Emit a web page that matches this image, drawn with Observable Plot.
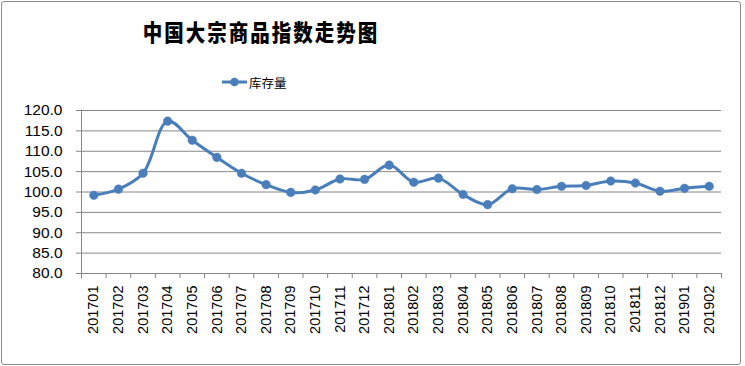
<!DOCTYPE html>
<html>
<head>
<meta charset="utf-8">
<script src="https://cdn.jsdelivr.net/npm/d3@7"></script>
<script src="https://cdn.jsdelivr.net/npm/@observablehq/plot@0.6"></script>
<style>
  html, body { margin: 0; padding: 0; background: #fff; }
  #wrap { position: relative; width: 745px; height: 366px; overflow: hidden; }
  #border { position: absolute; left: 1px; top: 1px; width: 738px; height: 362px; border: 1px solid #8c8c8c; border-radius: 3px; box-sizing: content-box; pointer-events: none; }
  #title { position: absolute; left: 111px; top: 16px; width: 300px; text-align: center; font-family: "Noto Sans CJK SC", sans-serif; font-weight: 900; font-size: 19.5px; letter-spacing: 2px; color: #000; line-height: 32px; white-space: nowrap; transform: scaleY(1.15); transform-origin: center; }
  #legend { position: absolute; left: 221px; top: 72px; height: 20px; display: flex; align-items: center; font-family: "Noto Sans CJK SC", sans-serif; font-size: 12.5px; color: #000; }
  #legend svg { margin-right: 1px; }
  #chart { position: absolute; left: 0; top: 0; }
</style>
</head>
<body>
<div id="wrap">
  <div id="chart"></div>
  <div id="title">中国大宗商品指数走势图</div>
  <div id="legend"></div>
  <div id="border"></div>
</div>
<script>
const months = ["201701","201702","201703","201704","201705","201706","201707","201708","201709","201710","201711","201712",
  "201801","201802","201803","201804","201805","201806","201807","201808","201809","201810","201811","201812","201901","201902"];
const inventory = [99.2,100.7,104.6,117.4,112.7,108.5,104.6,101.8,99.9,100.5,103.2,103.1,
  106.6,102.4,103.4,99.4,96.9,100.8,100.6,101.4,101.6,102.7,102.2,100.2,100.9,101.4];
const yTicks = [80,85,90,95,100,105,110,115,120];
const seriesName = "库存量";

const color = "#4a7ebb";
const data = months.map((m, i) => ({month: m, value: inventory[i]}));

const W = 745, H = 366, mL = 81, mR = 24;
const bw = (W - mL - mR) / months.length;

const chart = Plot.plot({
  width: W,
  height: H,
  marginTop: 110,
  marginBottom: 93,
  marginLeft: mL,
  marginRight: mR,
  style: {fontFamily: "'Liberation Sans', Arial, sans-serif", background: "transparent"},
  x: {type: "band", domain: months, padding: 0, round: false},
  y: {domain: [80, 120]},
  marks: [
    Plot.gridY(yTicks, {stroke: "#868686", strokeOpacity: 1, strokeWidth: 1}),
    Plot.ruleX([months[0]], {y1: 80, y2: 120, dx: -bw / 2, stroke: "#868686"}),
    Plot.ruleY([80], {stroke: "#868686"}),
    Plot.axisY(yTicks, {tickSize: 5, tickPadding: 14, stroke: "#868686", tickFormat: d => d.toFixed(1), fontSize: 15.5, fill: "#000", label: null}),
    Plot.axisX({tickSize: 5, stroke: "#868686", dx: -bw / 2, tickFormat: () => "", label: null}),
    Plot.axisX([months[months.length - 1]], {tickSize: 5, stroke: "#868686", dx: bw / 2, tickFormat: () => "", label: null}),
    Plot.axisX({tickSize: 0, tickPadding: 12, tickRotate: -90, fontSize: 14.5, fill: "#000", label: null}),
    Plot.line(data, {x: "month", y: "value", stroke: color, strokeWidth: 3, curve: "catmull-rom"}),
    Plot.dot(data, {x: "month", y: "value", r: 4.3, fill: color, stroke: color, strokeWidth: 0.5})
  ]
});
document.getElementById("chart").appendChild(chart);

// legend
const lg = document.getElementById("legend");
lg.innerHTML = `<svg width="27" height="12"><line x1="1" y1="6" x2="26" y2="6" stroke="${color}" stroke-width="3"/><circle cx="13.5" cy="6" r="4.3" fill="${color}"/></svg><span>${seriesName}</span>`;
</script>
</body>
</html>
